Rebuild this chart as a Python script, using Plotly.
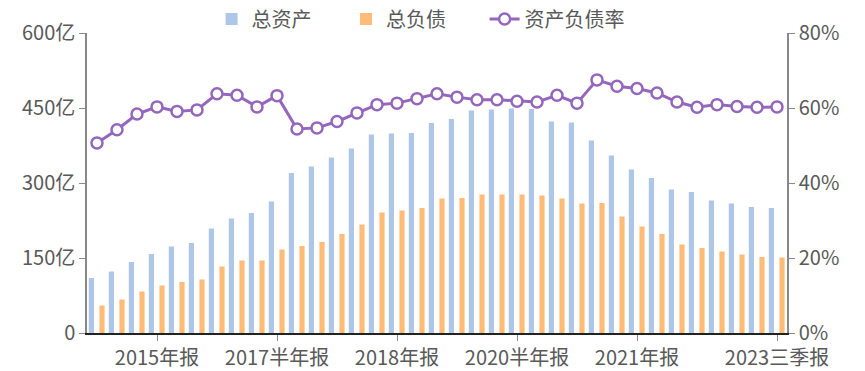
import plotly.graph_objects as go

periods = [
    "2015一季报", "2015半年报", "2015三季报", "2015年报",
    "2016一季报", "2016半年报", "2016三季报", "2016年报",
    "2017一季报", "2017半年报", "2017三季报", "2017年报",
    "2018一季报", "2018半年报", "2018三季报", "2018年报",
    "2019一季报", "2019半年报", "2019三季报", "2019年报",
    "2020一季报", "2020半年报", "2020三季报", "2020年报",
    "2021一季报", "2021半年报", "2021三季报", "2021年报",
    "2022一季报", "2022半年报", "2022三季报", "2022年报",
    "2023一季报", "2023半年报", "2023三季报",
]

total_assets = [110, 123, 142, 158, 173, 180, 209, 229, 240, 263,
                320, 333, 351, 369, 397, 399, 400, 420, 428, 445,
                447, 449, 448, 423, 421, 385, 355, 327, 310, 287,
                282, 265, 259, 252, 250]

total_liabilities = [55, 67, 83, 95, 102, 107, 133, 145, 145, 167,
                     174, 182, 198, 217, 241, 245, 250, 269, 270, 277,
                     277, 277, 275, 269, 259, 260, 233, 213, 198, 177,
                     170, 163, 157, 152, 151]

debt_ratio = [50.7, 54.2, 58.4, 60.3, 59.1, 59.5, 63.8, 63.4, 60.3, 63.3,
              54.4, 54.7, 56.4, 58.7, 60.9, 61.3, 62.5, 63.8, 62.9, 62.2,
              62.2, 61.8, 61.6, 63.4, 61.3, 67.5, 65.8, 65.2, 64.0, 61.6,
              60.2, 60.9, 60.4, 60.2, 60.3]

x_tick_labels = ["2015年报", "2017半年报", "2018年报", "2020半年报", "2021年报", "2023三季报"]
left_tick_vals = [0, 150, 300, 450, 600]
left_tick_text = ["0", "150亿", "300亿", "450亿", "600亿"]
right_tick_vals = [0, 20, 40, 60, 80]
right_tick_text = ["0%", "20%", "40%", "60%", "80%"]

FONT = "Noto Sans CJK SC"
TXT = "#595959"
FS = 20

fig = go.Figure()
fig.add_trace(go.Bar(
    x=periods, y=total_assets, name="总资产", legend="legend",
    marker=dict(color="#aec7e8", line=dict(width=0)),
    width=0.26, offset=-0.41,
))
fig.add_trace(go.Bar(
    x=periods, y=total_liabilities, name="总负债", legend="legend2",
    marker=dict(color="#ffbb78", line=dict(width=0)),
    width=0.26, offset=0.12,
))
fig.add_trace(go.Scatter(
    x=periods, y=debt_ratio, name="资产负债率", yaxis="y2", legend="legend3",
    mode="lines+markers",
    line=dict(color="#9467bd", width=3),
    marker=dict(symbol="circle", size=11, color="white",
                line=dict(color="#9467bd", width=2.5)),
))

def leg(x):
    return dict(orientation="h", x=x, xanchor="left", y=1.047, yanchor="middle",
                font=dict(size=FS, color=TXT), bgcolor="rgba(0,0,0,0)")

fig.update_layout(
    width=865, height=371,
    margin=dict(l=87, r=78, t=33, b=38, autoexpand=False),
    paper_bgcolor="white", plot_bgcolor="white",
    barmode="overlay",
    font=dict(family=FONT, size=FS, color=TXT),
    showlegend=True,
    legend=leg(0.178),
    legend2=leg(0.370),
    legend3=leg(0.568),
    xaxis=dict(
        type="category",
        tickmode="array",
        tickvals=x_tick_labels, ticktext=x_tick_labels,
        showgrid=False, zeroline=False,
        showline=True, linecolor="#222", linewidth=1.5,
        ticks="outside", ticklen=6, tickcolor="#888",
        tickfont=dict(size=FS, color=TXT),
        layer="below traces",
        range=[-0.5, 34.5],
    ),
    yaxis=dict(
        range=[0, 600],
        tickmode="array", tickvals=left_tick_vals, ticktext=left_tick_text,
        showgrid=False, zeroline=False,
        showline=True, linecolor="#888", linewidth=1.5,
        ticks="outside", ticklen=6, tickcolor="#888",
        tickfont=dict(size=FS, color=TXT),
    ),
    yaxis2=dict(
        range=[0, 80], overlaying="y", side="right",
        tickmode="array", tickvals=right_tick_vals, ticktext=right_tick_text,
        showgrid=False, zeroline=False,
        showline=True, linecolor="#888", linewidth=1.5,
        ticks="outside", ticklen=6, tickcolor="#888",
        tickfont=dict(size=FS, color=TXT),
    ),
)

fig.write_html("out.html", config={"displayModeBar": False},
               post_script="document.body.style.margin='0';")
